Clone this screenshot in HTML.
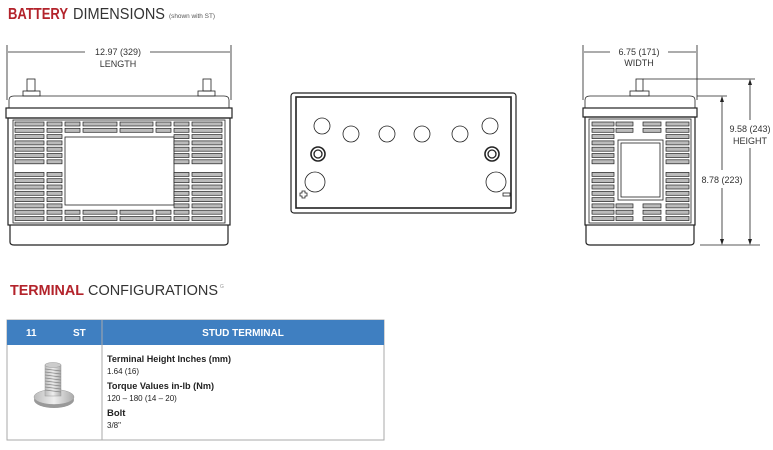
<!DOCTYPE html>
<html><head><meta charset="utf-8"><style>
html,body{margin:0;padding:0;background:#fff;}
svg{display:block;font-family:"Liberation Sans",sans-serif;}
</style></head><body>
<svg id="s" width="773" height="450" viewBox="0 0 773 450" xmlns="http://www.w3.org/2000/svg">
<defs>
<linearGradient id="bg" x1="0" x2="1"><stop offset="0" stop-color="#bbb"/><stop offset=".5" stop-color="#eee"/><stop offset="1" stop-color="#aaa"/></linearGradient>
</defs>
<text x="8" y="19" font-size="15.5" fill="#b3232b" font-weight="bold" textLength="60" lengthAdjust="spacingAndGlyphs">BATTERY</text>
<text x="73" y="19" font-size="15.5" fill="#333" textLength="92" lengthAdjust="spacingAndGlyphs">DIMENSIONS</text>
<text x="169" y="18" font-size="6" fill="#555" textLength="46" lengthAdjust="spacingAndGlyphs">(shown with ST)</text>

<g stroke="#222" fill="none" stroke-width="0.8">
<line x1="7" y1="45" x2="7" y2="100"/><line x1="231" y1="45" x2="231" y2="100"/>
<line x1="8" y1="52" x2="85" y2="52"/><line x1="150" y1="52" x2="230" y2="52"/>
<rect x="27" y="79" width="8" height="12"/><rect x="23" y="91" width="17" height="5"/>
<rect x="203" y="79" width="8" height="12"/><rect x="198" y="91" width="17" height="5"/>
<path d="M9 108 V100 Q9 96 14 96 H224 Q229 96 229 100 V108"/>
<rect x="6" y="108" width="226" height="10" stroke-width="1.2"/>
<rect x="8" y="118" width="222" height="107" stroke-width="1.2"/>
<rect x="13" y="120" width="212" height="103"/>
<path d="M10 225 V242 Q10 245 14 245 H224 Q228 245 228 242 V225" stroke-width="1.2"/>
<rect x="65" y="137" width="109" height="68"/>
<rect x="291" y="93" width="225" height="120" rx="3" stroke-width="1.2"/>
<rect x="296" y="97" width="215" height="111" stroke-width="1.6"/>
<circle cx="322" cy="126" r="8"/><circle cx="351" cy="134" r="8"/><circle cx="387" cy="134" r="8"/>
<circle cx="422" cy="134" r="8"/><circle cx="460" cy="134" r="8"/><circle cx="490" cy="126" r="8"/>
<circle cx="318" cy="154" r="7" stroke-width="1.6"/><circle cx="318" cy="154" r="4" stroke-width="1.3"/>
<circle cx="492" cy="154" r="7" stroke-width="1.6"/><circle cx="492" cy="154" r="4" stroke-width="1.3"/>
<circle cx="315" cy="182" r="10"/><circle cx="496" cy="182" r="10"/>
<path d="M302 191 h3 v2 h2 v3 h-2 v2 h-3 v-2 h-2 v-3 h2z"/>
<rect x="503" y="193" width="7" height="3"/>
<line x1="583" y1="45" x2="583" y2="100"/><line x1="697" y1="45" x2="697" y2="100"/>
<line x1="584" y1="52" x2="610" y2="52"/><line x1="668" y1="52" x2="696" y2="52"/>
<line x1="643" y1="79" x2="755" y2="79"/><line x1="697" y1="96" x2="727" y2="96"/>
<line x1="700" y1="245" x2="760" y2="245"/>
<line x1="750" y1="80" x2="750" y2="120"/><line x1="750" y1="148" x2="750" y2="244"/>
<line x1="722" y1="97" x2="722" y2="170"/><line x1="722" y1="188" x2="722" y2="244"/>
<rect x="636" y="79" width="7" height="12"/><rect x="630" y="91" width="19" height="5"/>
<path d="M585 108 V100 Q585 96 590 96 H690 Q695 96 695 100 V108"/>
<rect x="583" y="108" width="114" height="9" stroke-width="1.2"/>
<rect x="585" y="117" width="110" height="108" stroke-width="1.2"/>
<rect x="589" y="119" width="102" height="104"/>
<path d="M586 225 V242 Q586 245 590 245 H690 Q694 245 694 242 V225" stroke-width="1.2"/>
<rect x="618" y="140" width="45" height="60"/>
<rect x="621" y="143" width="39" height="54"/>
</g>
<g fill="#222">
<path d="M750 79 l-2 6 h4z M750 245 l-2 -6 h4z M722 96 l-2 6 h4z M722 245 l-2 -6 h4z"/>
</g>
<g id="slots" fill="#bbb" stroke="#222" stroke-width="0.7"></g>
<g font-size="9" fill="#333" text-anchor="middle">
<text x="118" y="55">12.97 (329)</text><text x="118" y="67">LENGTH</text>
<text x="639" y="55">6.75 (171)</text><text x="639" y="66">WIDTH</text>
<text x="750" y="132">9.58 (243)</text><text x="750" y="144">HEIGHT</text>
<text x="722" y="183">8.78 (223)</text>
</g>

<text x="10" y="295" font-size="15" fill="#b3232b" font-weight="bold" textLength="74" lengthAdjust="spacingAndGlyphs">TERMINAL</text>
<text x="88" y="295" font-size="15" fill="#333" textLength="130" lengthAdjust="spacingAndGlyphs">CONFIGURATIONS</text>
<text x="220" y="288" font-size="5" fill="#999">G</text>

<rect x="7" y="320" width="377" height="120" fill="#fff" stroke="#aaa" stroke-width="1"/>
<rect x="7" y="320" width="377" height="25" fill="#3f7fc1"/>
<line x1="102" y1="320" x2="102" y2="440" stroke="#aaa"/>
<g font-size="10" fill="#fff" font-weight="bold">
<text x="26" y="336">11</text><text x="73" y="336">ST</text>
<text x="243" y="336" text-anchor="middle">STUD TERMINAL</text>
</g>
<g fill="#222">
<text x="107" y="362" font-size="9.5" font-weight="bold" textLength="124" lengthAdjust="spacingAndGlyphs">Terminal Height Inches (mm)</text>
<text x="107" y="374" font-size="8">1.64 (16)</text>
<text x="107" y="389" font-size="9.5" font-weight="bold" textLength="107" lengthAdjust="spacingAndGlyphs">Torque Values in-lb (Nm)</text>
<text x="107" y="401" font-size="8">120 – 180 (14 – 20)</text>
<text x="107" y="416" font-size="9.5" font-weight="bold">Bolt</text>
<text x="107" y="428" font-size="8">3/8"</text>
</g>
<ellipse cx="54" cy="400" rx="20" ry="8" fill="#999"/>
<ellipse cx="54" cy="397" rx="20" ry="7.5" fill="url(#bg)" stroke="#999" stroke-width="0.5"/>
<rect x="45" y="365" width="16" height="31" fill="url(#bg)" stroke="#999" stroke-width="0.5"/>
<g stroke="#888" stroke-width="0.8">
<line x1="45" y1="369" x2="61" y2="371"/><line x1="45" y1="372" x2="61" y2="374"/><line x1="45" y1="375" x2="61" y2="377"/>
<line x1="45" y1="378" x2="61" y2="380"/><line x1="45" y1="381" x2="61" y2="383"/><line x1="45" y1="384" x2="61" y2="386"/>
<line x1="45" y1="387" x2="61" y2="389"/><line x1="45" y1="390" x2="61" y2="392"/></g>
<ellipse cx="53" cy="365" rx="8" ry="2.5" fill="#ccc" stroke="#999" stroke-width="0.5"/>
</svg>
<script>
var g=document.getElementById('slots'),NS="http://www.w3.org/2000/svg";
function sl(x,w,y){var r=document.createElementNS(NS,'rect');r.setAttribute('x',x);r.setAttribute('y',y);r.setAttribute('width',w);r.setAttribute('height',4);g.appendChild(r);}
var rows=[];for(var y=122;y<219;y+=6.3)rows.push(y);
var L=[[15,29,0],[47,15,0],[65,15,1],[83,34,1],[120,33,1],[156,15,1],[174,15,0],[192,30,0]];
L.forEach(function(c){rows.forEach(function(y){
 if(c[2]){ if(y>131&&y<206) return; }
 if(!c[2]&&y>160&&y<172) return;
 sl(c[0],c[1],y);});});
var R=[[592,22,0],[616,17,1],[643,18,1],[666,23,0]];
R.forEach(function(c){rows.forEach(function(y){
 if(c[2]){ if(y>134&&y<201) return; }
 if(!c[2]&&y>160&&y<172) return;
 sl(c[0],c[1],y);});});
</script>
</body></html>
